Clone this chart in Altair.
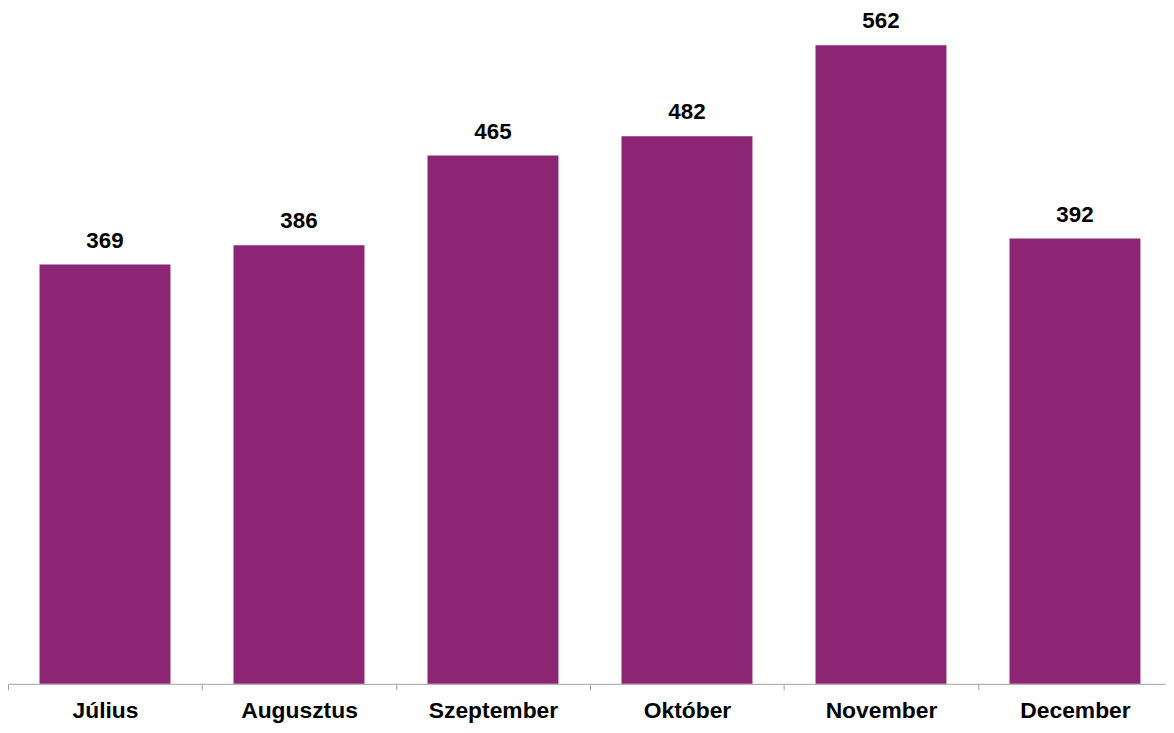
import altair as alt
import pandas as pd

months = ["Július", "Augusztus", "Szeptember", "Október", "November", "December"]
values = [369, 386, 465, 482, 562, 392]

df = pd.DataFrame({"month": months, "value": values})

FONT = "Liberation Sans"
COLOR = "#8C2573"

base = alt.Chart(df).encode(
    x=alt.X(
        "month:N",
        sort=months,
        title=None,
        scale=alt.Scale(paddingInner=0, paddingOuter=0, range=[0, 1172]),
        axis=alt.Axis(
            labelAngle=0,
            labelFont=FONT,
            labelFontSize=23,
            labelFontWeight="bold",
            labelColor="#000000",
            labelPadding=10,
            tickBand="extent",
            tickSize=6,
            tickColor="#A0A0A0",
            domainColor="#A0A0A0",
            tickWidth=1,
            domainWidth=1,
        ),
    ),
    y=alt.Y("value:Q", scale=alt.Scale(domain=[0, 592.6], nice=False), axis=None),
)

bars = base.mark_bar(color=COLOR, width=alt.RelativeBandSize(0.675))
labels = base.mark_text(
    font=FONT, fontSize=22.5, fontWeight="bold", color="#000000",
    baseline="alphabetic", dy=-17,
).encode(text="value:Q")

chart = (bars + labels).properties(
    width=1166, height=678,
    autosize=alt.AutoSizeParams(type="none"),
    padding={"left": 0, "top": 0, "right": 0, "bottom": 39},
).configure_view(stroke=None)

chart.save("out.html", embed_options={"renderer": "svg", "actions": False})
